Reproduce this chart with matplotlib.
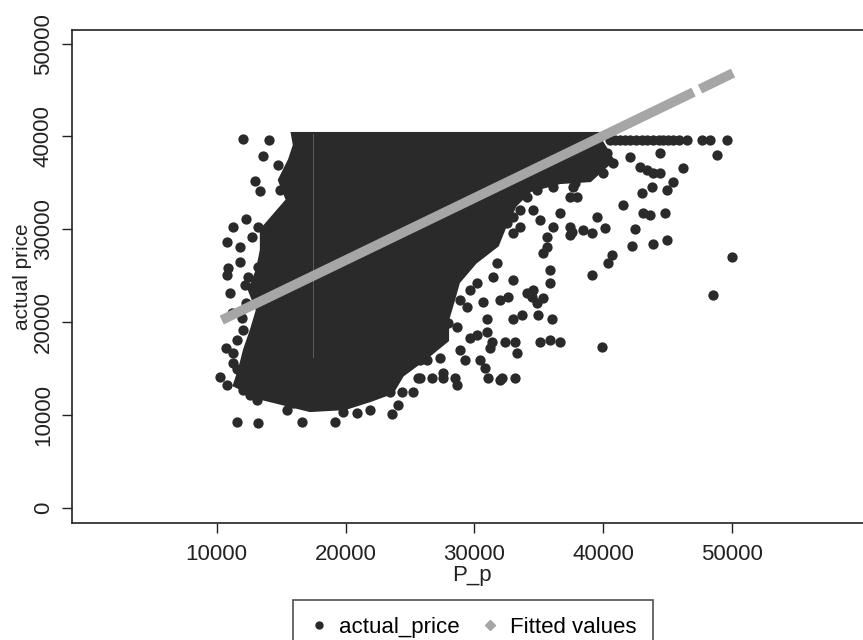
import numpy as np
import matplotlib.pyplot as plt
import matplotlib as mpl
from matplotlib.lines import Line2D

mpl.rcParams['font.family'] = ['Liberation Sans', 'DejaVu Sans']

# outline of the solid, overplotted part of the actual_price cloud (P_p, actual_price)
cloud_x = [15920, 39580, 39740, 40670, 38960, 36630, 34310, 33140, 32370, 31750, 30040,
           28720, 28330, 27870, 27870, 26160, 24380, 23600, 21890, 19950, 17240, 15690,
           13510, 11420, 11810, 12200, 12740, 13200, 12580, 13200, 13510, 13510, 14520,
           15530, 14910, 15690, 16070]
cloud_y = [40250, 40250, 39600, 37450, 35290, 35080, 34210, 32600, 30440, 28290, 26450,
           24300, 22360, 20200, 18050, 16110, 14280, 12450, 11580, 10720, 10510, 11050,
           11800, 13200, 14820, 16970, 19130, 21280, 23440, 25590, 27750, 29900, 31520,
           33140, 35290, 37450, 39060]

# thin unfilled column inside the cloud
gap_x = [17500, 17500]
gap_y = [16200, 40250]

# single actual_price points outside / at the edge of the cloud
p_p = [12040, 14060, 13590, 14780, 12970, 13360, 15430, 14910, 12270, 11290, 13230,
       10780, 11810, 12720, 10900, 11810, 10780, 12450, 11030, 12200, 13230,
       10260, 11550, 13230, 16590, 11290, 11550, 12060, 11290, 12060, 13100, 15430,
       19180, 19820, 20860, 21890, 23580, 24090, 25250, 25640, 15940, 10780, 12580,
       25770, 26680, 27580, 28490, 28620, 24350, 23440, 25770, 26290, 27320, 28880,
       29260, 30430, 30810, 31070, 32110, 33140, 31200, 31330, 32370, 33140, 33270,
       30950, 29650, 30170, 30950, 33010, 33660, 34950, 35990, 35080, 35860, 36630,
       34440, 35340, 34830, 30680, 32620, 29400, 28620, 27970, 27580, 31980, 39870,
       40510, 41290, 42060, 42970, 43870, 44650, 45420, 46460, 47630, 48270, 49570,
       40900, 41700, 42500, 43400, 44300, 45000, 45900,
       44390, 48790, 42060, 42840, 43360, 43870, 44390, 46200, 45420, 44910, 43750,
       42970, 41540, 43100, 43620, 44780, 39480, 42450, 40120, 38440, 39090, 37540,
       42200, 43870, 44960, 40650, 40380, 39090, 49950, 48530,
       37930, 37800, 38440, 39990, 40770, 40260,
       37670, 37410, 36110, 34830, 34050, 33530, 36630, 36110, 37410, 37410, 34560,
       35080, 35600, 35600, 35340, 35860, 35860, 34560, 33010, 33530, 32500, 33010,
       31720, 31460, 33010, 34050, 30170, 28880, 29650, 31980,
       11200, 12000, 10700, 11600, 12300]
actual_price = [39710, 39600, 37910, 36910, 35180, 34140, 35470, 34210, 31060, 30260, 30260,
                28640, 28100, 29180, 25810, 26490, 25050, 24870, 23080, 23980, 25950,
                14090, 9250, 9070, 9250, 16620, 18050, 19130, 15540, 12660, 11580, 10510,
                9250, 10320, 10150, 10510, 10060, 11050, 12480, 13920, 11230, 13200, 12120,
                13920, 13920, 13920, 13920, 13200, 12480, 12480, 15890, 15890, 16080, 16970,
                15890, 15890, 15000, 13920, 13920, 13920, 17160, 17870, 17870, 17870, 16620,
                18940, 18230, 18590, 20280, 20280, 20740, 20740, 20280, 17870, 18050, 17870,
                22720, 22540, 22000, 22180, 22720, 21640, 19480, 19850, 14460, 13740, 17330,
                39600, 39600, 39600, 39600, 39600, 39600, 39600, 39600, 39600, 39600, 39600,
                39600, 39600, 39600, 39600, 39600, 39600, 39600,
                38170, 37990, 37800, 36720, 36370, 36010, 36010, 36620, 35110, 34210, 34570,
                33860, 32600, 31700, 31520, 31700, 31340, 29980, 30090, 29900, 29550, 29720,
                28180, 28390, 28820, 27210, 26310, 25070, 27030, 22900,
                33490, 34940, 36370, 36010, 37090, 38170,
                34570, 33490, 34570, 34210, 33490, 32050, 31700, 30260, 30260, 29360, 32050,
                30980, 29180, 28100, 27390, 25590, 24160, 23440, 29550, 30260, 30630, 31340,
                26310, 24870, 24510, 23080, 24160, 22360, 23440, 22360,
                21000, 20400, 17200, 14900, 22000]

# fitted values (two runs of P_p, gap where no observations)
fit_x = [10390, 47000, np.nan, 47500, 50060]
fit_y = [20200, 44770, np.nan, 45100, 46820]

dot_color = '#2a2a2a'
fit_color = '#a6a6a6'

fig = plt.figure(figsize=(8.63, 6.40), dpi=100)
ax = fig.add_axes([0.0834, 0.1828, 0.927, 0.7703])

ax.fill(cloud_x, cloud_y, color=dot_color, lw=3, zorder=2)
ax.plot(gap_x, gap_y, color='#5a5a5a', lw=0.7, zorder=2)
ax.scatter(p_p, actual_price, s=55, color=dot_color, lw=0, zorder=2)
ax.plot(fit_x, fit_y, color=fit_color, lw=7, solid_capstyle='butt', zorder=3)

ax.set_xlim(-1226, 60840)
ax.set_ylim(-1670, 51460)
ax.set_xticks([10000, 20000, 30000, 40000, 50000])
ax.set_yticks([0, 10000, 20000, 30000, 40000, 50000])
ax.tick_params(direction='out', length=7, width=1, labelsize=16, colors='#222222')
ax.tick_params(axis='x', pad=8)
ax.tick_params(axis='y', pad=6)
plt.setp(ax.get_yticklabels(), rotation=90, va='center')
ax.set_xlabel('P_p', fontsize=16, labelpad=0, color='#222222')
ax.set_ylabel('actual price', fontsize=15, labelpad=1, color='#222222')
for s in ax.spines.values():
    s.set_linewidth(1.2)
    s.set_color('#222222')

handles = [Line2D([], [], ls='none', marker='o', ms=5, color=dot_color),
           Line2D([], [], ls='none', marker='D', ms=5, color=fit_color)]
leg = fig.legend(handles, ['actual_price', 'Fitted values'], ncol=2, loc='upper left',
                 bbox_to_anchor=(293 / 863, 1 - 600 / 640), borderaxespad=0, fontsize=16,
                 frameon=True, fancybox=False, edgecolor='#222222', handletextpad=0.5,
                 columnspacing=1.0, borderpad=0.75, handlelength=0.8)
leg.get_frame().set_linewidth(1.2)

fig.savefig('out.png', dpi=100)
